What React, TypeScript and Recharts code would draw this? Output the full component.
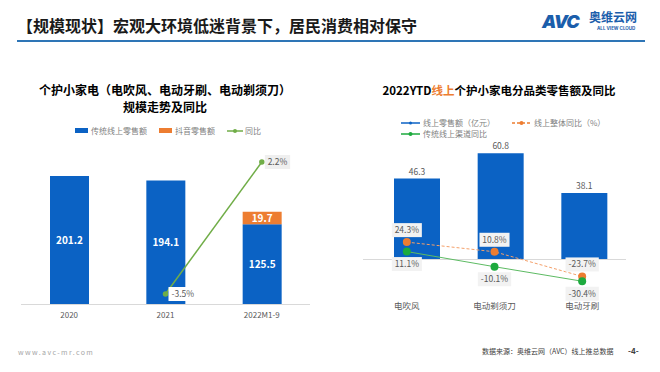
import React from 'react';
import { ComposedChart, Bar, Line, XAxis, YAxis, LabelList, Legend, ReferenceLine } from 'recharts';

const FONT = '"Noto Sans CJK SC", "Noto Sans", sans-serif';
const BLUE = '#0B62C4';
const ORANGE = '#ED7D31';
const GREEN_L = '#70AD47';
const GREEN_R = '#1DAA3E';

// left chart: scale trend
const scaleYears = ['2020', '2021', '2022M1-9'];
const traditionalSales = [201.2, 194.1, 125.5];
const douyinSales = [null, null, 19.7];
const scaleYoy = [null, -3.5, 2.2];

// right chart: categories
const categories = ['电吹风', '电动剃须刀', '电动牙刷'];
const onlineSales = [46.3, 60.8, 38.1];
const onlineYoy = [24.3, 10.8, -23.7];
const traditionalYoy = [11.1, -10.1, -30.4];

const leftData = scaleYears.map((year, i) => ({
  year,
  traditional: traditionalSales[i],
  douyin: douyinSales[i],
  yoy: scaleYoy[i],
}));

const rightData = categories.map((cat, i) => ({
  cat,
  sales: onlineSales[i],
  onlineYoy: onlineYoy[i],
  tradYoy: traditionalYoy[i],
}));

function textW(s: string, fs: number) {
  let w = 0;
  for (const c of s) {
    if (c === '.') w += 0.3;
    else if (c === '%') w += 0.85;
    else if (c === '-') w += 0.38;
    else w += 0.56;
  }
  return w * fs;
}

function InBarLabel(props: any) {
  const { x, y, width, height, value } = props;
  if (value == null) return null;
  return (
    <text x={x + width / 2} y={y + height / 2} dy={3.5} textAnchor="middle" fontSize={10} fontWeight="bold" fill="#fff">
      {value.toFixed(1)}
    </text>
  );
}

function SideTag(props: any) {
  const { x, y, value } = props;
  if (value == null) return null;
  const text = `${value}%`;
  const w = textW(text, 8.5) + 6;
  return (
    <g>
      <rect x={x + 3} y={y - 7} width={w} height={14} fill={value < 0 ? '#ffffff' : '#efefef'} />
      <text x={x + 3 + w / 2} y={y} dy={3} textAnchor="middle" fontSize={8.5} fill="#595959">{text}</text>
    </g>
  );
}

function makeTag(above: boolean) {
  return function Tag(props: any) {
    const { x, y, value } = props;
    if (value == null) return null;
    const text = `${value}%`;
    const w = textW(text, 8.5) + 6;
    const cy = above ? y - 12 : y + 12.5;
    return (
      <g>
        <rect x={x - w / 2} y={cy - 7} width={w} height={14} fill="#f2f2f2" />
        <text x={x} y={cy} dy={3} textAnchor="middle" fontSize={8.5} fill="#595959">{text}</text>
      </g>
    );
  };
}

function LeftLegend() {
  const item = { display: 'flex', alignItems: 'center', marginRight: 12 } as React.CSSProperties;
  return (
    <div style={{ display: 'flex', justifyContent: 'center', alignItems: 'center', fontSize: 8, color: '#7f7f7f', fontFamily: FONT, paddingLeft: 18 }}>
      <span style={item}><i style={{ display: 'inline-block', width: 13, height: 5, background: BLUE, marginRight: 3 }} />传统线上零售额</span>
      <span style={item}><i style={{ display: 'inline-block', width: 13, height: 5, background: ORANGE, marginRight: 3 }} />抖音零售额</span>
      <span style={item}>
        <svg width={16} height={6} style={{ marginRight: 2 }}>
          <line x1={0} y1={3} x2={16} y2={3} stroke={GREEN_L} strokeWidth={1.5} />
          <circle cx={8} cy={3} r={2} fill={GREEN_L} />
        </svg>
        同比
      </span>
    </div>
  );
}

function LineIcon({ color, dashed, r }: { color: string; dashed?: boolean; r: number }) {
  return (
    <svg width={19} height={8} style={{ marginRight: 3 }}>
      <line x1={0} y1={4} x2={19} y2={4} stroke={color} strokeWidth={1.5} strokeDasharray={dashed ? '3 2' : undefined} />
      <circle cx={9.5} cy={4} r={r} fill={color} />
    </svg>
  );
}

function RightLegend() {
  const row = { display: 'flex', alignItems: 'center', height: 11 } as React.CSSProperties;
  const item = { display: 'flex', alignItems: 'center' } as React.CSSProperties;
  return (
    <div style={{ fontSize: 8, color: '#7f7f7f', fontFamily: FONT }}>
      <div style={row}>
        <span style={{ ...item, width: 111 }}><LineIcon color={BLUE} r={1.5} />线上零售额（亿元）</span>
        <span style={item}><LineIcon color={ORANGE} dashed r={2} />线上整体同比（%）</span>
      </div>
      <div style={row}>
        <span style={item}><LineIcon color={GREEN_R} r={2} />传统线上渠道同比</span>
      </div>
    </div>
  );
}

export default function App() {
  const leftTitle = { position: 'absolute', left: 0, width: 330, textAlign: 'center', fontSize: 12, fontWeight: 'bold', color: '#000', lineHeight: '15px' } as React.CSSProperties;
  return (
    <div style={{ position: 'absolute', left: 0, top: 0, width: 660, height: 372, background: '#fff', fontFamily: FONT, overflow: 'hidden' }}>
      {/* header */}
      <div style={{ position: 'absolute', left: 17, top: 14, fontSize: 16, fontWeight: 'bold', color: '#1a1a1a', lineHeight: '22px' }}>
        【规模现状】宏观大环境低迷背景下，居民消费相对保守
      </div>
      <div style={{ position: 'absolute', left: 17, top: 39.5, width: 628, height: 2.5, background: '#2E75B6' }} />
      <div style={{ position: 'absolute', left: 542, top: 9, fontSize: 18, fontWeight: 900, fontStyle: 'italic', color: '#1B5EAB', fontFamily: 'Inter, sans-serif', letterSpacing: -1, lineHeight: '26px' }}>
        AVC
      </div>
      <div style={{ position: 'absolute', left: 589, top: 9, fontSize: 12, fontWeight: 'bold', color: '#1B5EAB', lineHeight: '16px' }}>奥维云网</div>
      <div style={{ position: 'absolute', left: 597, top: 26, fontSize: 4.5, fontWeight: 'bold', color: '#1B5EAB', fontFamily: 'Inter, sans-serif', lineHeight: '6px', whiteSpace: 'nowrap' }}>ALL VIEW CLOUD</div>

      {/* left chart */}
      <div style={{ ...leftTitle, top: 81.5 }}>个护小家电（电吹风、电动牙刷、电动剃须刀）</div>
      <div style={{ ...leftTitle, top: 99 }}>规模走势及同比</div>
      <div style={{ position: 'absolute', left: 0, top: 0 }}>
        <ComposedChart width={330} height={372} data={leftData} margin={{ top: 140, right: 20, bottom: 37.5, left: 21 }}>
          <XAxis dataKey="year" height={30} tickLine={false} axisLine={{ stroke: '#d9d9d9' }} tick={{ fontSize: 8, fill: '#595959' }} tickMargin={2} />
          <YAxis yAxisId="amt" hide domain={[0, 257.6]} allowDataOverflow />
          <YAxis yAxisId="pct" hide orientation="right" domain={[-3.953, 3.15]} allowDataOverflow />
          <Legend verticalAlign="middle" align="center" wrapperStyle={{ top: 125, left: 0, width: 330 }} content={<LeftLegend />} />
          <Bar yAxisId="amt" dataKey="traditional" stackId="s" fill={BLUE} barSize={39} isAnimationActive={false}>
            <LabelList dataKey="traditional" content={<InBarLabel />} />
          </Bar>
          <Bar yAxisId="amt" dataKey="douyin" stackId="s" fill={ORANGE} barSize={39} isAnimationActive={false}>
            <LabelList dataKey="douyin" content={<InBarLabel />} />
          </Bar>
          <Line yAxisId="pct" dataKey="yoy" stroke={GREEN_L} strokeWidth={1.5} dot={{ r: 2, fill: GREEN_L, stroke: GREEN_L }} isAnimationActive={false}>
            <LabelList dataKey="yoy" content={<SideTag />} />
          </Line>
        </ComposedChart>
      </div>

      {/* right chart */}
      <div style={{ position: 'absolute', left: 330, top: 82, width: 338, textAlign: 'center', fontSize: 11.5, fontWeight: 'bold', color: '#000', lineHeight: '16px' }}>
        2022YTD<span style={{ color: ORANGE }}>线上</span>个护小家电分品类零售额及同比
      </div>
      <div style={{ position: 'absolute', left: 330, top: 0 }}>
        <ComposedChart width={330} height={372} data={rightData} margin={{ top: 140, right: 34, bottom: 47, left: 33 }}>
          <XAxis xAxisId="line" dataKey="cat" height={30} tickLine={false} axisLine={false} tick={{ fontSize: 8.5, fill: '#595959' }} tickMargin={2} />
          <XAxis xAxisId="bar" dataKey="cat" hide height={0} padding={{ left: 12, right: 0 }} />
          <YAxis yAxisId="amt" hide domain={[-20.31, 68.36]} allowDataOverflow />
          <YAxis yAxisId="pct" hide orientation="right" domain={[-49.65, 167.1]} allowDataOverflow />
          <Legend verticalAlign="middle" align="center" wrapperStyle={{ top: 117, left: 71, width: 250 }} content={<RightLegend />} />
          <ReferenceLine xAxisId="line" yAxisId="amt" y={0} stroke="#d9d9d9" />
          <Bar xAxisId="bar" yAxisId="amt" dataKey="sales" fill={BLUE} barSize={46} isAnimationActive={false}>
            <LabelList dataKey="sales" position="top" offset={4} fontSize={8.5} fill="#595959" formatter={(v: any) => Number(v).toFixed(1)} />
          </Bar>
          <Line xAxisId="line" yAxisId="pct" dataKey="onlineYoy" stroke="#F4A06A" strokeWidth={1} strokeDasharray="3 2" dot={{ r: 4, fill: ORANGE, stroke: 'none' }} isAnimationActive={false}>
            <LabelList dataKey="onlineYoy" content={makeTag(true)} />
          </Line>
          <Line xAxisId="line" yAxisId="pct" dataKey="tradYoy" stroke="#5DBB63" strokeWidth={1} dot={{ r: 4, fill: GREEN_R, stroke: 'none' }} isAnimationActive={false}>
            <LabelList dataKey="tradYoy" content={makeTag(false)} />
          </Line>
        </ComposedChart>
      </div>

      {/* footer */}
      <div style={{ position: 'absolute', left: 18, top: 347, fontSize: 7, color: '#a6a6a6', letterSpacing: 1.4, lineHeight: '10px' }}>www.avc-mr.com</div>
      <div style={{ position: 'absolute', left: 482, top: 346, fontSize: 7, color: '#404040', lineHeight: '10px', whiteSpace: 'nowrap' }}>数据来源：奥维云网（AVC）线上推总数据</div>
      <div style={{ position: 'absolute', left: 628, top: 345, fontSize: 8, fontWeight: 'bold', color: '#404040', lineHeight: '11px' }}>-4-</div>
    </div>
  );
}
